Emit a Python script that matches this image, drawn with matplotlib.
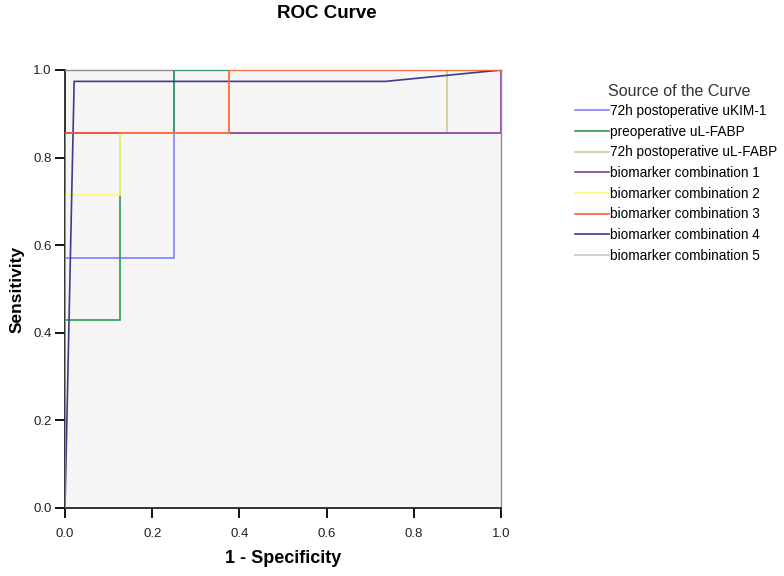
import matplotlib
matplotlib.use("Agg")
import matplotlib.pyplot as plt

plt.rcParams['font.family'] = ['Liberation Sans', 'DejaVu Sans']

# ROC curves (1 - specificity, sensitivity)
labels = ["72h postoperative uKIM-1", "preoperative uL-FABP", "72h postoperative uL-FABP",
          "biomarker combination 1", "biomarker combination 2", "biomarker combination 3",
          "biomarker combination 4", "biomarker combination 5"]
fpr_kim1 = [0, 0, 0.25, 0.25, 0.25, 1]
tpr_kim1 = [0, 0.571, 0.571, 0.857, 1, 1]
fpr_pre_fabp = [0, 0, 0.125, 0.125, 0.25, 0.25, 1]
tpr_pre_fabp = [0, 0.429, 0.429, 0.857, 0.857, 1, 1]
fpr_72_fabp = [0, 0, 0.875, 0.875, 1]
tpr_72_fabp = [0, 0.857, 0.857, 1, 1]
fpr_comb1 = [0, 0, 1, 1]
tpr_comb1 = [0, 0.857, 0.857, 1]
fpr_comb2 = [0, 0, 0.125, 0.125, 0.375, 0.375, 1]
tpr_comb2 = [0, 0.714, 0.714, 0.857, 0.857, 1, 1]
fpr_comb3 = [0, 0, 0.375, 0.375, 1]
tpr_comb3 = [0, 0.857, 0.857, 1, 1]
fpr_comb4 = [0, 0.021, 0.735, 1]
tpr_comb4 = [0, 0.974, 0.974, 1]
fpr_comb5 = [0, 0, 1]
tpr_comb5 = [0, 1, 1]

fprs = [fpr_kim1, fpr_pre_fabp, fpr_72_fabp, fpr_comb1, fpr_comb2, fpr_comb3, fpr_comb4, fpr_comb5]
tprs = [tpr_kim1, tpr_pre_fabp, tpr_72_fabp, tpr_comb1, tpr_comb2, tpr_comb3, tpr_comb4, tpr_comb5]
colors = ["#8080ff", "#2e9a5a", "#d2c88c", "#8040a0", "#ffff66", "#ff5a3c", "#3c3c8c", "#c8c8c8"]
zorders = [4, 5, 2, 3, 6, 8, 7, 1]

fig = plt.figure(figsize=(7.84, 5.76), dpi=100)
ax = fig.add_axes([65/784, 68/576, 436/784, 438/576])
ax.set_facecolor("#f5f5f5")

for fx, ty, c, z, lab in zip(fprs, tprs, colors, zorders, labels):
    ax.plot(fx, ty, color=c, lw=1.2, zorder=z, label=lab, solid_joinstyle='miter')

ax.set_xlim(0, 1)
ax.set_ylim(0, 1)
ticks = [0, 0.2, 0.4, 0.6, 0.8, 1.0]
ax.set_xticks(ticks)
ax.set_yticks(ticks)
ax.set_xticklabels(["%.1f" % t for t in ticks], fontsize=9.5, color="#222222")
ax.set_yticklabels(["%.1f" % t for t in ticks], fontsize=9.5, color="#222222")
ax.tick_params(axis='x', direction='out', length=7.5, width=1.3, pad=7)
ax.tick_params(axis='y', direction='out', length=7.5, width=1.3, pad=2)
for s in ["left", "bottom"]:
    ax.spines[s].set_color("#222222")
    ax.spines[s].set_linewidth(1.3)
for s in ["top", "right"]:
    ax.spines[s].set_color("#909090")
    ax.spines[s].set_linewidth(1.0)

ax.set_xlabel("1 - Specificity", fontsize=13, fontweight='bold', labelpad=7)
ax.set_ylabel("Sensitivity", fontsize=12.5, fontweight='bold', labelpad=6)

fig.text(327/784, 1 - 13/576, "ROC Curve", fontsize=13.5, fontweight='bold',
         ha='center', va='center')

fig.text(608/784, 1 - 92/576, "Source of the Curve", fontsize=11.5,
         ha='left', va='center', color="#333333")
ax.legend(loc='upper left', bbox_to_anchor=(575/784, 1 - 104/576),
          bbox_transform=fig.transFigure, frameon=False, fontsize=9.8,
          handlelength=2.5, handletextpad=0.1, labelspacing=0.49,
          borderpad=0, borderaxespad=0)

fig.savefig("out.png", dpi=100)
